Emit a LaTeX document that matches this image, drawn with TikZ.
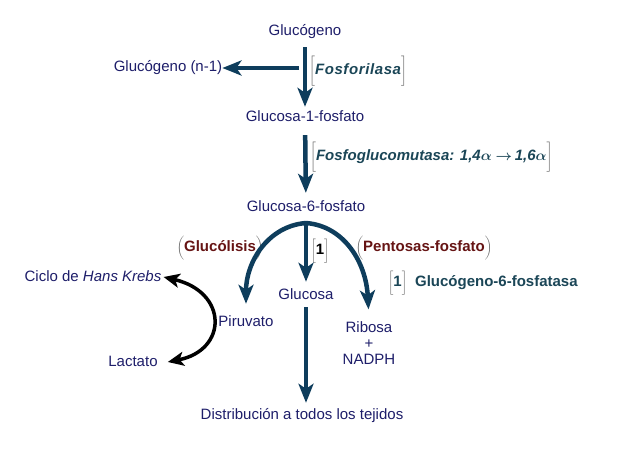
\documentclass[tikz,border=0pt]{standalone}
\usepackage{bm}
\usepackage{fontspec}
\setmainfont{Liberation Sans}
\usetikzlibrary{arrows.meta}
\definecolor{txt}{HTML}{1E1E6A}
\definecolor{arc}{HTML}{0E3D5C}
\definecolor{enz}{HTML}{1B4657}
\definecolor{mar}{HTML}{661414}
\definecolor{brk}{HTML}{606060}
\tikzset{
  lbl/.style={text=txt, font=\fontsize{15}{17}\selectfont, inner sep=2pt, text height=11pt, text depth=3pt},
  enzlbl/.style={text=enz, font=\fontsize{15}{17}\selectfont\bfseries\itshape, inner sep=0pt, anchor=west},
  arr/.style={draw=arc, line width=4.5pt, -{Stealth[length=19pt,width=15pt,inset=5pt]}},
  blk/.style={draw=black, line width=3.5pt, {Stealth[length=16pt,width=14pt,inset=4pt]}-{Stealth[length=16pt,width=14pt,inset=4pt]}},
}
\newcommand{\lb}[1]{\textcolor{brk}{$#1$}}
\begin{document}
\begin{tikzpicture}[x=1pt,y=-1pt]
\useasboundingbox[fill=white] (0,0) rectangle (630,468);
% nodes
\node[lbl] (glucogeno) at (305,32) {Glucógeno};
\node[lbl] (gn1) at (168,68) {Glucógeno (n-1)};
\node[lbl] (g1p) at (305,118) {Glucosa-1-fosfato};
\node[lbl] (g6p) at (306,208) {Glucosa-6-fosfato};
\node[lbl] (glucosa) at (306,295) {Glucosa};
\node[lbl] (piruvato) at (246,322) {Piruvato};
\node[lbl, align=center, text height=, text depth=] (ribosa) at (369,343) {Ribosa\\[-1pt]+\\[-1pt]NADPH};
\node[lbl] (krebs) at (93,277) {Ciclo de \textit{Hans Krebs}};
\node[lbl] (lactato) at (133,362) {Lactato};
\node[lbl] (dist) at (302,415) {Distribución a todos los tejidos};
% enzyme labels
\node[enzlbl] (fosfo) at (309,71) {\lb{\Bigg[}\addfontfeature{LetterSpace=4}Fosforilasa\lb{\Bigg]}};
\node[enzlbl] (mutasa) at (310,157) {\lb{\Bigg[}Fosfoglucomutasa: 1,4$\bm{\alpha}\bm{\rightarrow}$\,1,6$\bm{\alpha}$\lb{\Bigg]}};
\node[text=mar, font=\fontsize{15}{17}\selectfont\bfseries, inner sep=0pt] (gluco) at (220,248) {\lb{\bigg(}Glucólisis\lb{\bigg)}};
\node[text=mar, font=\fontsize{15}{17}\selectfont\bfseries, inner sep=0pt] (pento) at (424,248) {\lb{\bigg(}Pentosas-fosfato\lb{\bigg)}};
\node[text=black, font=\fontsize{15}{17}\selectfont\bfseries, inner sep=0pt] (uno) at (320,251) {\lb{\bigg[}1\lb{\bigg]}};
\node[text=enz, font=\fontsize{15}{17}\selectfont\bfseries, inner sep=0pt, anchor=west] (fosfatasa) at (388,283) {\lb{\bigg[}1\lb{\bigg]}\hspace{8pt}Glucógeno-6-fosfatasa};
% coordinates
\coordinate (branch) at (299,68);
\coordinate (split) at (306,223);
% connectors
\draw[arr, shorten <=6pt, shorten >=2pt] (glucogeno) -- (g1p);
\draw[arr, line width=4pt, shorten >=-2pt] (branch) -- (gn1);
\draw[arr, shorten <=8pt, shorten >=6pt] (g1p) -- (g6p);
\draw[arr, shorten >=4pt] (split) -- (glucosa);
\draw[arr, shorten >=9pt] (split) .. controls (268,226) and (246,262) .. (piruvato.north);
\draw[arr, shorten >=10pt] (split) .. controls (344,226) and (366,262) .. (ribosa.north);
\draw[arr, shorten <=3pt, shorten >=3pt] (glucosa.south) -- (glucosa.south |- dist.north);
\draw[blk] (krebs.east) .. controls (228,292) and (228,350) .. ([xshift=8pt]lactato.east);
\end{tikzpicture}
\end{document}
